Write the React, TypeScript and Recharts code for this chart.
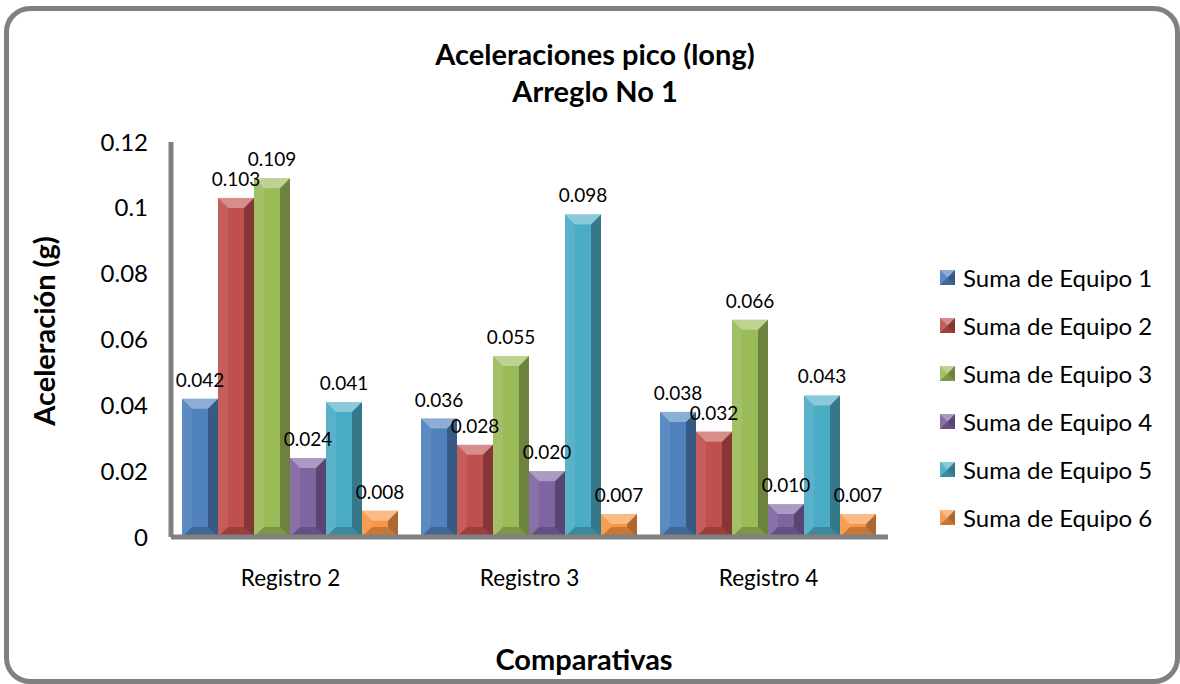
import React from "react";
import { Bar, BarChart, LabelList, XAxis, YAxis } from "recharts";

const registros = ["Registro 2", "Registro 3", "Registro 4"];
const equipo1 = [0.042, 0.036, 0.038];
const equipo2 = [0.103, 0.028, 0.032];
const equipo3 = [0.109, 0.055, 0.066];
const equipo4 = [0.024, 0.02, 0.01];
const equipo5 = [0.041, 0.098, 0.043];
const equipo6 = [0.008, 0.007, 0.007];
const yTicks = [0, 0.02, 0.04, 0.06, 0.08, 0.1, 0.12];

const seriesNames = ["Suma de Equipo 1", "Suma de Equipo 2", "Suma de Equipo 3", "Suma de Equipo 4", "Suma de Equipo 5", "Suma de Equipo 6"];
const seriesColors = ["#4F81BD", "#C0504D", "#9BBB59", "#8064A2", "#4BACC6", "#F79646"];
const seriesValues = [equipo1, equipo2, equipo3, equipo4, equipo5, equipo6];

const data = registros.map((name, i) => {
  const row: Record<string, string | number> = { name };
  seriesValues.forEach((vals, s) => { row["e" + (s + 1)] = vals[i]; });
  return row;
});

const FONT = "Lato, 'Noto Sans', sans-serif";

function BevelBar(props: any) {
  const { x, y, width: w, height: h, fill } = props;
  if (!h || h <= 0) return null;
  const b = Math.min(10, h / 2, w / 2);
  return (
    <g>
      <rect x={x} y={y} width={w} height={h} fill={fill} />
      <polygon points={`${x},${y} ${x + b},${y + b} ${x + b},${y + h - b} ${x},${y + h}`} fill="#fff" fillOpacity={0.08} />
      <polygon points={`${x + w},${y} ${x + w - b},${y + b} ${x + w - b},${y + h - b} ${x + w},${y + h}`} fill="#000" fillOpacity={0.3} />
      <polygon points={`${x},${y} ${x + w},${y} ${x + w - b},${y + b} ${x + b},${y + b}`} fill="#fff" fillOpacity={0.35} />
      <polygon points={`${x},${y + h} ${x + w},${y + h} ${x + w - b},${y + h - b} ${x + b},${y + h - b}`} fill="#000" fillOpacity={0.2} />
    </g>
  );
}

function LegendBox() {
  return (
    <div style={{ position: "absolute", left: 940, top: 253, fontSize: 24, color: "#000" }}>
      {seriesNames.map((n, i) => (
        <div key={n} style={{ display: "flex", alignItems: "center", height: 48 }}>
          <svg width={16} height={16} style={{ marginRight: 7 }}>
            <BevelBar x={0} y={1} width={15} height={15} fill={seriesColors[i]} />
          </svg>
          <span>{n}</span>
        </div>
      ))}
    </div>
  );
}

export default function App() {
  return (
    <div style={{ position: "absolute", left: 0, top: 0, width: 1180, height: 684, background: "#fff", overflow: "hidden", fontFamily: FONT }}>
      <div style={{ position: "absolute", left: 4, top: 6, width: 1176, height: 678, border: "5px solid #808080", borderRadius: 26, boxSizing: "border-box" }} />
      <div style={{ position: "absolute", left: 0, width: 1190, top: 35, textAlign: "center", fontWeight: 700, fontSize: 29, lineHeight: "37px" }}>
        Aceleraciones pico (long)<br />Arreglo No 1
      </div>
      <div style={{ position: "absolute", left: 43, top: 331, transform: "translate(-50%, -50%) rotate(-90deg)", fontWeight: 700, fontSize: 29, whiteSpace: "nowrap" }}>
        Aceleración (g)
      </div>
      <div style={{ position: "absolute", left: 0, width: 1168, top: 641, textAlign: "center", fontWeight: 700, fontSize: 29 }}>
        Comparativas
      </div>
      <div style={{ position: "absolute", left: 0, top: 0 }}>
        <BarChart width={1180} height={684} data={data} margin={{ top: 142, right: 292, bottom: 0, left: 0 }} barCategoryGap={11} barGap={0}>
          <XAxis dataKey="name" height={147} axisLine={{ stroke: "#808080", strokeWidth: 5 }} tickLine={false} tickSize={0} tickMargin={33} tick={{ fill: "#000", fontSize: 22.5, fontFamily: FONT }} />
          <YAxis width={171} domain={[0, 0.12]} ticks={yTicks} interval={0} axisLine={{ stroke: "#808080", strokeWidth: 5 }} tickLine={false} tickSize={0} tickMargin={23} tick={{ fill: "#000", fontSize: 24, fontFamily: FONT }} />
          {seriesNames.map((n, i) => (
            <Bar key={n} dataKey={"e" + (i + 1)} name={n} fill={seriesColors[i]} shape={BevelBar} isAnimationActive={false}>
              <LabelList dataKey={"e" + (i + 1)} position="top" offset={12} formatter={(v: any) => Number(v).toFixed(3)} style={{ fill: "#000", fontSize: 19, fontFamily: FONT }} />
            </Bar>
          ))}
        </BarChart>
      </div>
      <LegendBox />
    </div>
  );
}
